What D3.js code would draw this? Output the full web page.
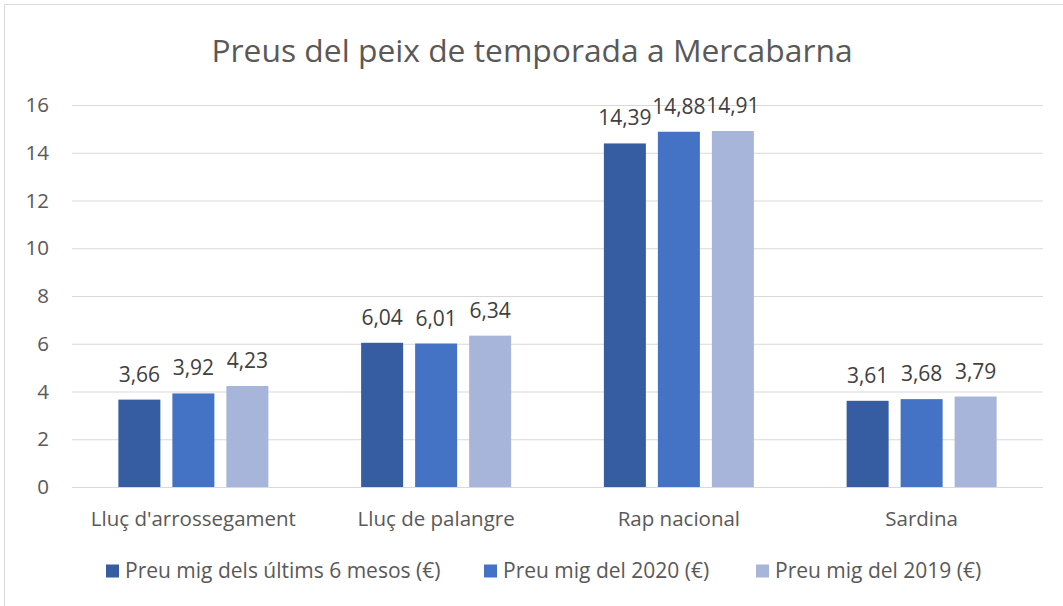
<!DOCTYPE html>
<html>
<head>
<meta charset="utf-8">
<script src="https://cdn.jsdelivr.net/npm/d3@7/dist/d3.min.js"></script>
<style>
html,body{margin:0;padding:0;background:#fff;overflow:hidden;}
svg{display:block;font-family:"Open Sans",sans-serif;}
</style>
</head>
<body>
<svg id="chart" width="1063" height="606"></svg>
<script>
const title = "Preus del peix de temporada a Mercabarna";
const categories = ["Lluç d'arrossegament", "Lluç de palangre", "Rap nacional", "Sardina"];
const seriesNames = ["Preu mig dels últims 6 mesos (€)", "Preu mig del 2020 (€)", "Preu mig del 2019 (€)"];
const seriesLast6 = [3.66, 6.04, 14.39, 3.61];
const series2020 = [3.92, 6.01, 14.88, 3.68];
const series2019 = [4.23, 6.34, 14.91, 3.79];
const yTicks = [0, 2, 4, 6, 8, 10, 12, 14, 16];
const colors = ["#365DA1", "#4472C4", "#A7B5DA"];

const seriesValues = [seriesLast6, series2020, series2019];
const textColor = "#595959";
const svg = d3.select("#chart");

// chart border (only top/left visible in the crop)
svg.append("rect").attr("x", 4.5).attr("y", 4.5).attr("width", 1100).attr("height", 650)
  .attr("fill", "#fff").attr("stroke", "#d9d9d9").attr("stroke-width", 1);

const plot = {left: 72, right: 1043, top: 105, bottom: 487};

const x0 = d3.scaleBand().domain(categories).range([plot.left, plot.right]).padding(0);
const groupW = 150;
const x1 = d3.scaleBand().domain(seriesNames)
  .range([(x0.bandwidth() - groupW) / 2, (x0.bandwidth() + groupW) / 2])
  .paddingInner(0.2222).paddingOuter(0);
const y = d3.scaleLinear().domain([0, 16]).range([plot.bottom, plot.top]);

// title
svg.append("text").attr("x", 532).attr("y", 62).attr("text-anchor", "middle")
  .attr("fill", textColor).style("font-size", "31.8px").text(title);

// gridlines + y axis labels
const yAxis = d3.axisLeft(y).tickValues(yTicks).tickSize(-(plot.right - plot.left)).tickPadding(23)
  .tickFormat(d3.format("d"));
const gy = svg.append("g").attr("transform", `translate(${plot.left},0)`).call(yAxis);
gy.select(".domain").remove();
gy.selectAll(".tick line").attr("stroke", "#d9d9d9").attr("stroke-width", 1);
gy.selectAll(".tick text").attr("fill", textColor).style("font-size", "20.5px").style("font-family", "Open Sans");

// x axis labels
const xAxis = d3.axisBottom(x0).tickSize(0).tickPadding(24);
const gx = svg.append("g").attr("transform", `translate(0,${plot.bottom})`).call(xAxis);
gx.select(".domain").remove();
gx.selectAll(".tick text").attr("fill", textColor).style("font-size", "20.5px").style("font-family", "Open Sans");

// bars
const rows = categories.map((c, i) => ({cat: c, vals: seriesNames.map((s, j) => ({s, j, v: seriesValues[j][i]}))}));
const groups = svg.append("g").selectAll("g").data(rows).join("g")
  .attr("transform", d => `translate(${x0(d.cat)},0)`);
groups.selectAll("rect").data(d => d.vals).join("rect")
  .attr("x", d => x1(d.s)).attr("width", x1.bandwidth())
  .attr("y", d => y(d.v)).attr("height", d => y(0) - y(d.v))
  .attr("fill", d => colors[d.j]);
const fmt = v => d3.format(".2f")(v).replace(".", ",");
groups.selectAll("text.lbl").data(d => d.vals).join("text").attr("class", "lbl")
  .attr("x", d => x1(d.s) + x1.bandwidth() / 2).attr("y", d => y(d.v) - 18)
  .attr("text-anchor", "middle").attr("fill", "#404040").style("font-size", "21px")
  .text(d => fmt(d.v));

// legend
const legendX = [106, 484, 756];
const lg = svg.append("g").selectAll("g").data(seriesNames).join("g")
  .attr("transform", (d, i) => `translate(${legendX[i]},571)`);
lg.append("rect").attr("x", 0).attr("y", -6.5).attr("width", 13).attr("height", 13)
  .attr("fill", (d, i) => colors[i]);
lg.append("text").attr("x", 19).attr("y", 0).attr("dy", "0.35em").attr("fill", textColor)
  .style("font-size", "21px").text(d => d);
</script>
</body>
</html>
